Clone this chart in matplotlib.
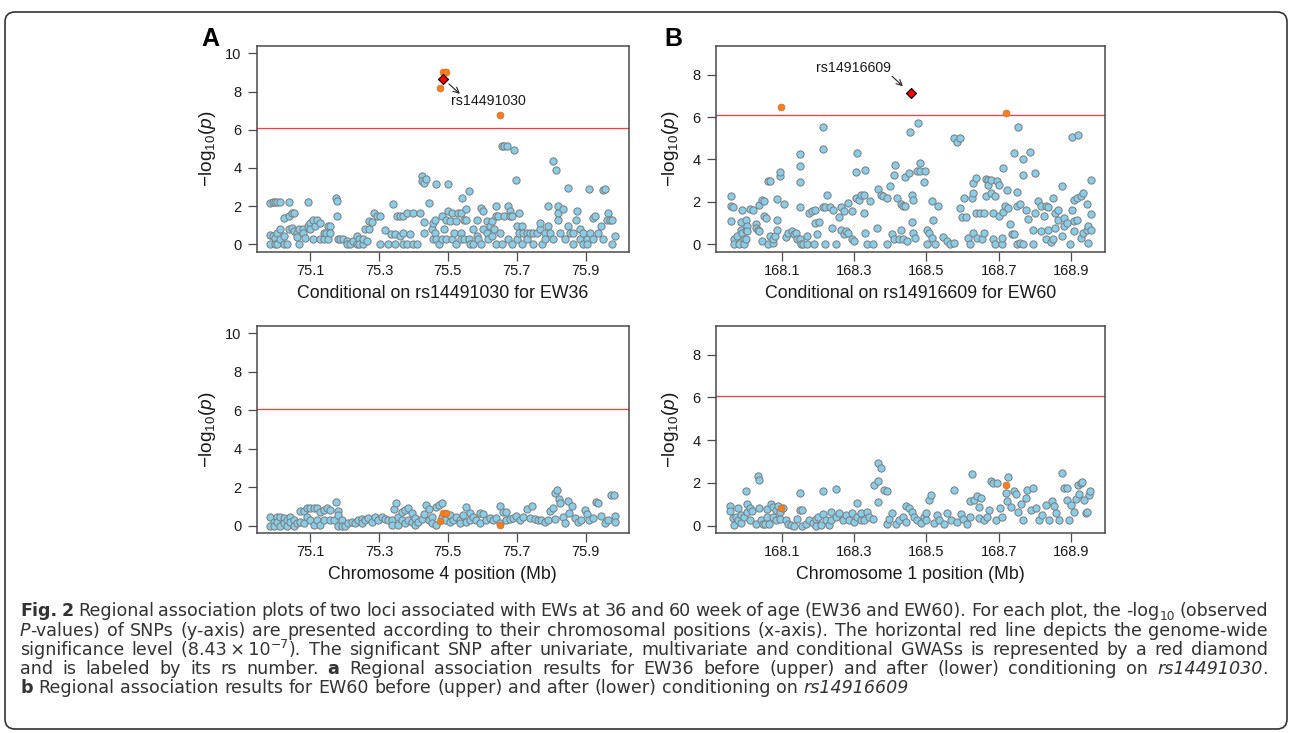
import numpy as np
import matplotlib
matplotlib.use("Agg")
import matplotlib.pyplot as plt
from matplotlib.patches import FancyBboxPatch
from matplotlib.transforms import IdentityTransform


# genome-wide significance level
SIG_P = 8.43e-7

# EW36, chromosome 4 (Mb, -log10 p), before conditioning
EW36_BEFORE = [
    (74.984, 2.17), (74.984, 0.47), (74.984, 0.03), (74.992, 2.23), (74.992, 0.43),
    (74.998, 2.23), (74.998, 0.35), (74.998, 0.03), (75.005, 2.23), (75.005, 0.61),
    (75.005, 0.03), (75.013, 2.23), (75.013, 0.78), (75.013, 0.26), (75.025, 1.39),
    (75.025, 0.43), (75.025, 0.03), (75.032, 0.03), (75.039, 2.23), (75.039, 1.51),
    (75.039, 0.78), (75.047, 1.65), (75.047, 0.87), (75.054, 1.65), (75.054, 0.70),
    (75.061, 0.61), (75.061, 0.40), (75.069, 0.78), (75.069, 0.03), (75.079, 0.78),
    (75.079, 0.61), (75.084, 0.35), (75.093, 2.23), (75.093, 0.96), (75.100, 1.13),
    (75.100, 0.78), (75.108, 1.30), (75.108, 0.26), (75.115, 0.96), (75.121, 1.30),
    (75.129, 1.13), (75.129, 0.26), (75.139, 0.61), (75.139, 0.26), (75.145, 0.61),
    (75.153, 0.96), (75.153, 0.26), (75.158, 0.96), (75.158, 0.61), (75.174, 2.43),
    (75.179, 1.51), (75.179, 2.26), (75.182, 0.26), (75.187, 0.26), (75.197, 0.26),
    (75.206, 0.17), (75.206, 0.03), (75.216, 0.03), (75.226, 0.17), (75.235, 0.43),
    (75.235, 0.03), (75.243, 0.26), (75.243, 0.03), (75.253, 0.03), (75.253, 0.26),
    (75.260, 0.78), (75.264, 0.17), (75.272, 0.78), (75.272, 1.22), (75.279, 1.17),
    (75.287, 1.65), (75.293, 1.51), (75.303, 1.51), (75.303, 0.03), (75.318, 0.73),
    (75.327, 0.03), (75.334, 0.52), (75.340, 2.09), (75.347, 0.52), (75.347, 0.03),
    (75.351, 1.51), (75.361, 1.48), (75.361, 0.43), (75.371, 1.48), (75.371, 0.61),
    (75.371, 0.03), (75.380, 1.65), (75.380, 0.03), (75.390, 0.52), (75.400, 1.65),
    (75.400, 0.03), (75.409, 0.03), (75.419, 1.65), (75.426, 3.60), (75.426, 3.30),
    (75.432, 3.22), (75.432, 1.17), (75.432, 0.61), (75.438, 3.43), (75.445, 2.14),
    (75.453, 0.78), (75.458, 1.13), (75.458, 0.26), (75.463, 1.30), (75.463, 0.61),
    (75.467, 3.18), (75.467, 0.26), (75.475, 0.00), (75.482, 1.48), (75.482, 0.26),
    (75.489, 0.78), (75.496, 0.26), (75.496, 1.30), (75.501, 3.18), (75.501, 1.74),
    (75.506, 1.22), (75.513, 1.65), (75.513, 0.26), (75.518, 0.61), (75.524, 1.22),
    (75.524, 0.00), (75.530, 1.65), (75.537, 1.65), (75.537, 0.61), (75.537, 0.26),
    (75.541, 2.42), (75.547, 1.30), (75.547, 0.26), (75.554, 1.83), (75.554, 1.30),
    (75.561, 2.78), (75.561, 0.26), (75.564, 0.03), (75.574, 0.03), (75.574, 0.78),
    (75.584, 1.30), (75.584, 0.43), (75.588, 0.26), (75.595, 1.91), (75.595, 0.03),
    (75.603, 1.74), (75.603, 0.78), (75.613, 1.22), (75.613, 0.61), (75.617, 0.26),
    (75.622, 0.96), (75.627, 1.22), (75.627, 0.43), (75.634, 0.78), (75.640, 2.03),
    (75.640, 1.48), (75.640, 0.03), (75.646, 1.48), (75.651, 0.61), (75.656, 5.17),
    (75.656, 0.03), (75.663, 5.17), (75.663, 1.48), (75.671, 5.17), (75.675, 2.03),
    (75.675, 0.26), (75.680, 1.74), (75.680, 1.48), (75.685, 1.48), (75.685, 0.03),
    (75.693, 4.92), (75.698, 3.39), (75.700, 0.96), (75.700, 0.26), (75.707, 1.65),
    (75.707, 0.61), (75.714, 0.96), (75.714, 0.03), (75.719, 0.61), (75.729, 0.61),
    (75.729, 0.26), (75.738, 0.61), (75.748, 0.61), (75.748, 0.03), (75.758, 0.61),
    (75.767, 0.78), (75.767, 1.13), (75.772, 0.03), (75.782, 0.61), (75.782, 0.26),
    (75.791, 2.00), (75.791, 0.96), (75.798, 0.61), (75.806, 4.38), (75.806, 0.26),
    (75.814, 3.91), (75.820, 2.03), (75.820, 1.65), (75.820, 1.30), (75.827, 0.61),
    (75.833, 1.83), (75.840, 0.26), (75.849, 2.96), (75.849, 0.96), (75.854, 0.61),
    (75.864, 0.61), (75.864, 0.03), (75.872, 1.30), (75.876, 1.74), (75.883, 0.78),
    (75.883, 0.26), (75.893, 0.61), (75.893, 0.03), (75.903, 0.26), (75.903, 0.03),
    (75.910, 2.92), (75.912, 0.61), (75.922, 1.39), (75.922, 0.26), (75.928, 1.48),
    (75.936, 0.61), (75.946, 0.96), (75.951, 2.83), (75.951, 0.26), (75.956, 2.92),
    (75.961, 1.30), (75.966, 1.65), (75.970, 1.30), (75.978, 1.30), (75.978, 0.03),
    (75.985, 0.43),
]

# EW36 after conditioning on rs14491030
EW36_AFTER = [
    (74.984, 0.00), (74.984, 0.43), (74.994, 0.21), (74.994, 0.00), (75.003, 0.47),
    (75.003, 0.21), (75.013, 0.43), (75.013, 0.00), (75.023, 0.38), (75.023, 0.12),
    (75.032, 0.30), (75.032, 0.00), (75.042, 0.43), (75.042, 0.21), (75.052, 0.30),
    (75.052, 0.00), (75.061, 0.12), (75.071, 0.78), (75.071, 0.21), (75.081, 0.78),
    (75.081, 0.12), (75.090, 0.90), (75.090, 0.47), (75.100, 0.90), (75.100, 0.30),
    (75.110, 0.90), (75.110, 0.03), (75.119, 0.90), (75.119, 0.30), (75.129, 0.73),
    (75.129, 0.03), (75.139, 0.30), (75.139, 0.82), (75.148, 0.90), (75.158, 0.82),
    (75.158, 0.30), (75.168, 0.30), (75.175, 1.22), (75.182, 0.78), (75.182, 0.56),
    (75.182, 0.00), (75.192, 0.30), (75.192, 0.00), (75.201, 0.00), (75.211, 0.12),
    (75.221, 0.21), (75.230, 0.12), (75.240, 0.30), (75.250, 0.33), (75.250, 0.12),
    (75.259, 0.30), (75.269, 0.38), (75.279, 0.21), (75.288, 0.43), (75.298, 0.30),
    (75.308, 0.43), (75.317, 0.33), (75.327, 0.30), (75.337, 0.30), (75.337, 0.03),
    (75.343, 0.85), (75.349, 1.17), (75.356, 0.43), (75.356, 0.03), (75.366, 0.73),
    (75.366, 0.30), (75.375, 0.82), (75.375, 0.12), (75.385, 0.90), (75.385, 0.30),
    (75.395, 0.64), (75.395, 0.21), (75.404, 0.38), (75.404, 0.03), (75.414, 0.21),
    (75.424, 0.33), (75.431, 0.61), (75.438, 1.08), (75.446, 0.85), (75.446, 0.30),
    (75.455, 0.47), (75.455, 0.12), (75.465, 0.99), (75.465, 0.03), (75.475, 1.08),
    (75.483, 1.17), (75.483, 0.43), (75.491, 0.30), (75.506, 0.56), (75.506, 0.21),
    (75.515, 0.30), (75.525, 0.47), (75.535, 0.30), (75.535, 0.12), (75.544, 0.56),
    (75.554, 0.96), (75.554, 0.21), (75.564, 0.64), (75.564, 0.30), (75.573, 0.47),
    (75.583, 0.30), (75.593, 0.64), (75.593, 0.12), (75.602, 0.61), (75.612, 0.30),
    (75.622, 0.38), (75.631, 0.30), (75.641, 0.38), (75.651, 1.04), (75.651, 0.12),
    (75.660, 0.73), (75.670, 0.73), (75.670, 0.30), (75.680, 0.33), (75.689, 0.38),
    (75.699, 0.50), (75.709, 0.30), (75.718, 0.43), (75.730, 0.87), (75.738, 0.38),
    (75.745, 1.04), (75.752, 0.33), (75.762, 0.30), (75.771, 0.30), (75.781, 0.21),
    (75.791, 0.30), (75.797, 0.78), (75.805, 0.90), (75.810, 1.69), (75.810, 0.33),
    (75.818, 1.83), (75.823, 1.37), (75.826, 1.17), (75.834, 0.43), (75.839, 0.12),
    (75.849, 1.29), (75.853, 0.68), (75.861, 1.03), (75.868, 0.38), (75.878, 0.21),
    (75.887, 0.30), (75.897, 0.82), (75.904, 0.61), (75.911, 0.30), (75.921, 0.38),
    (75.929, 1.22), (75.936, 1.17), (75.945, 0.50), (75.955, 0.12), (75.965, 0.30),
    (75.974, 1.57), (75.981, 1.57), (75.984, 0.50), (75.984, 0.21),
]

# SNPs in LD with the top SNP (orange), EW36
EW36_LD_POS = [75.477, 75.485, 75.495, 75.651]
EW36_LD_BEFORE = [8.17, 9.03, 9.03, 6.75]
EW36_LD_AFTER = [0.24, 0.68, 0.68, 0.03]
EW36_TOP = ("rs14491030", 75.486, 8.66)

# EW60, chromosome 1, before conditioning
EW60_BEFORE = [
    (167.959, 2.30), (167.959, 1.80), (167.959, 1.09), (167.965, 1.77), (167.969, 0.23),
    (167.969, 0.00), (167.976, 0.39), (167.982, 0.00), (167.987, 1.05), (167.987, 0.70),
    (167.990, 1.61), (167.990, 0.55), (167.996, 0.23), (167.996, 0.00), (168.001, 1.14),
    (168.001, 0.70), (168.001, 0.23), (168.005, 0.86), (168.005, 0.63), (168.012, 1.67),
    (168.020, 1.64), (168.029, 0.98), (168.029, 0.78), (168.033, 0.70), (168.038, 1.86),
    (168.038, 0.63), (168.045, 2.08), (168.045, 0.16), (168.051, 2.03), (168.051, 1.33),
    (168.057, 1.25), (168.063, 2.97), (168.063, 0.00), (168.068, 2.97), (168.068, 0.39),
    (168.077, 0.08), (168.077, 0.23), (168.082, 0.39), (168.086, 2.16), (168.086, 1.17),
    (168.086, 0.70), (168.094, 3.23), (168.094, 3.39), (168.105, 1.88), (168.111, 0.36),
    (168.118, 0.55), (168.128, 0.63), (168.134, 0.47), (168.140, 0.55), (168.143, 0.23),
    (168.149, 4.27), (168.149, 2.92), (168.149, 3.70), (168.149, 1.77), (168.149, 0.23),
    (168.153, 0.00), (168.160, 0.00), (168.169, 0.39), (168.169, 0.00), (168.176, 1.48),
    (168.183, 1.56), (168.188, 0.00), (168.192, 1.61), (168.192, 1.02), (168.197, 0.47),
    (168.204, 1.05), (168.213, 5.52), (168.213, 4.47), (168.213, 1.77), (168.220, 0.00),
    (168.220, 1.77), (168.226, 2.34), (168.232, 1.77), (168.238, 0.78), (168.243, 1.64),
    (168.250, 0.00), (168.258, 1.30), (168.263, 1.77), (168.263, 0.70), (168.271, 1.56),
    (168.271, 0.47), (168.278, 0.63), (168.284, 1.95), (168.284, 0.55), (168.294, 1.56),
    (168.294, 0.23), (168.300, 0.16), (168.306, 2.19), (168.306, 3.42), (168.309, 4.30),
    (168.314, 2.11), (168.318, 2.34), (168.326, 2.34), (168.326, 1.48), (168.330, 3.52),
    (168.330, 0.55), (168.335, 0.00), (168.344, 2.03), (168.353, 0.00), (168.363, 0.78),
    (168.366, 2.61), (168.374, 2.34), (168.381, 2.27), (168.390, 2.19), (168.390, 0.00),
    (168.398, 2.73), (168.404, 0.47), (168.409, 3.28), (168.409, 0.23), (168.413, 3.75),
    (168.418, 2.19), (168.423, 0.23), (168.429, 1.92), (168.429, 0.70), (168.436, 1.80),
    (168.436, 0.23), (168.441, 3.17), (168.441, 1.80), (168.446, 0.16), (168.453, 3.36),
    (168.455, 5.28), (168.459, 2.34), (168.459, 1.05), (168.464, 2.11), (168.464, 0.55),
    (168.469, 0.31), (168.473, 3.44), (168.476, 5.72), (168.483, 3.83), (168.483, 3.44),
    (168.492, 2.92), (168.496, 3.44), (168.501, 0.70), (168.501, 0.00), (168.508, 0.55),
    (168.515, 2.03), (168.515, 0.31), (168.519, 1.17), (168.524, 0.00), (168.533, 1.80),
    (168.547, 0.36), (168.556, 0.16), (168.565, 0.00), (168.577, 5.00), (168.577, 0.08),
    (168.586, 4.80), (168.593, 5.00), (168.593, 1.72), (168.598, 1.30), (168.604, 2.19),
    (168.610, 1.30), (168.616, 0.31), (168.621, 0.00), (168.625, 2.19), (168.630, 2.89),
    (168.630, 2.42), (168.630, 0.55), (168.637, 3.13), (168.637, 1.48), (168.641, 0.31),
    (168.648, 1.48), (168.653, 0.23), (168.658, 1.48), (168.658, 0.55), (168.665, 3.08),
    (168.665, 2.27), (168.671, 3.05), (168.671, 2.81), (168.678, 3.05), (168.678, 2.42),
    (168.683, 1.48), (168.683, 0.23), (168.690, 2.30), (168.690, 0.00), (168.696, 2.97),
    (168.702, 2.81), (168.702, 1.33), (168.708, 0.00), (168.708, 0.31), (168.713, 3.59),
    (168.713, 1.52), (168.718, 1.80), (168.722, 2.58), (168.727, 1.72), (168.731, 0.94),
    (168.736, 0.50), (168.741, 4.30), (168.741, 0.47), (168.750, 2.47), (168.750, 1.80),
    (168.750, 0.00), (168.754, 5.55), (168.759, 1.92), (168.759, 0.08), (168.768, 4.02),
    (168.768, 3.28), (168.768, 0.00), (168.776, 1.64), (168.782, 1.20), (168.787, 4.33),
    (168.794, 0.00), (168.794, 0.70), (168.800, 3.36), (168.800, 1.48), (168.810, 2.03),
    (168.816, 1.80), (168.816, 0.63), (168.824, 1.33), (168.831, 1.83), (168.831, 0.23),
    (168.837, 1.77), (168.837, 0.70), (168.844, 0.11), (168.851, 2.19), (168.851, 0.23),
    (168.856, 1.48), (168.856, 0.78), (168.865, 1.64), (168.865, 1.17), (168.874, 2.73),
    (168.874, 0.39), (168.881, 1.25), (168.881, 0.86), (168.888, 1.02), (168.897, 0.00),
    (168.902, 5.08), (168.902, 1.64), (168.908, 2.11), (168.908, 1.09), (168.908, 0.63),
    (168.916, 2.19), (168.916, 1.14), (168.920, 5.16), (168.927, 2.27), (168.927, 0.31),
    (168.934, 2.42), (168.934, 0.55), (168.943, 1.88), (168.943, 0.70), (168.948, 0.86),
    (168.948, 0.08), (168.954, 3.05), (168.954, 1.41), (168.954, 0.70),
]

# EW60 after conditioning on rs14916609
EW60_AFTER = [
    (167.957, 0.92), (167.957, 0.70), (167.964, 0.34), (167.968, 0.03), (167.973, 0.42),
    (167.979, 0.81), (167.979, 0.27), (167.987, 0.50), (167.987, 0.11), (167.996, 0.42),
    (168.002, 1.60), (168.005, 1.00), (168.005, 0.66), (168.012, 0.81), (168.012, 0.27),
    (168.017, 0.70), (168.028, 0.08), (168.033, 2.30), (168.038, 2.14), (168.038, 0.81),
    (168.042, 0.27), (168.047, 0.08), (168.053, 0.08), (168.059, 0.77), (168.059, 0.42),
    (168.065, 0.08), (168.071, 1.00), (168.077, 0.42), (168.077, 0.89), (168.083, 0.74),
    (168.083, 0.27), (168.090, 0.92), (168.095, 0.64), (168.095, 0.33), (168.104, 0.81),
    (168.111, 0.27), (168.118, 0.08), (168.125, 0.03), (168.134, 0.00), (168.143, 0.30),
    (168.151, 1.55), (168.151, 0.74), (168.157, 0.74), (168.157, 0.00), (168.166, 0.08),
    (168.176, 0.27), (168.185, 0.14), (168.194, 0.30), (168.194, 0.00), (168.200, 0.42),
    (168.208, 0.03), (168.215, 1.61), (168.215, 0.55), (168.222, 0.27), (168.231, 0.02),
    (168.237, 0.66), (168.237, 0.27), (168.249, 1.72), (168.249, 0.42), (168.259, 0.58),
    (168.268, 0.27), (168.277, 0.50), (168.286, 0.27), (168.293, 0.58), (168.300, 0.19),
    (168.309, 1.08), (168.309, 0.42), (168.318, 0.27), (168.318, 0.58), (168.328, 0.27),
    (168.335, 0.66), (168.341, 0.42), (168.351, 0.30), (168.355, 1.89), (168.365, 2.10),
    (168.365, 1.10), (168.367, 2.93), (168.374, 2.69), (168.383, 1.67), (168.390, 1.63),
    (168.390, 0.08), (168.397, 0.30), (168.406, 0.61), (168.415, 0.08), (168.424, 0.27),
    (168.434, 0.42), (168.443, 0.94), (168.443, 0.19), (168.452, 0.81), (168.459, 0.66),
    (168.466, 0.42), (168.475, 0.27), (168.484, 0.11), (168.492, 0.42), (168.500, 0.61),
    (168.500, 0.27), (168.507, 1.20), (168.514, 1.44), (168.521, 0.11), (168.529, 0.50),
    (168.535, 0.27), (168.549, 0.08), (168.558, 0.58), (168.567, 0.27), (168.577, 1.67),
    (168.586, 0.19), (168.595, 0.55), (168.602, 0.30), (168.612, 0.08), (168.621, 1.13),
    (168.621, 0.42), (168.627, 2.43), (168.632, 1.20), (168.641, 1.39), (168.646, 0.86),
    (168.646, 0.34), (168.650, 1.30), (168.658, 0.27), (168.667, 0.42), (168.673, 0.74),
    (168.680, 2.10), (168.685, 1.99), (168.692, 0.27), (168.696, 1.99), (168.703, 0.81),
    (168.710, 0.42), (168.719, 1.52), (168.724, 1.13), (168.726, 2.27), (168.733, 0.89),
    (168.742, 1.64), (168.747, 1.49), (168.752, 0.66), (168.761, 1.00), (168.768, 0.27),
    (168.775, 1.28), (168.779, 1.69), (168.789, 0.74), (168.796, 1.75), (168.802, 0.81),
    (168.812, 0.27), (168.821, 0.50), (168.830, 0.97), (168.839, 0.27), (168.848, 1.13),
    (168.853, 0.92), (168.858, 0.58), (168.867, 0.27), (168.874, 2.46), (168.881, 1.75),
    (168.888, 1.75), (168.888, 1.20), (168.895, 0.27), (168.899, 0.97), (168.908, 0.66),
    (168.913, 1.24), (168.918, 1.91), (168.922, 1.49), (168.927, 1.99), (168.931, 2.05),
    (168.936, 1.20), (168.941, 0.58), (168.945, 0.66), (168.950, 1.44), (168.953, 1.63),
]

EW60_LD_POS = [168.099, 168.720]
EW60_LD_BEFORE = [6.45, 6.20]
EW60_LD_AFTER = [0.84, 1.92]
EW60_TOP = ("rs14916609", 168.457, 7.11)

EW36_XTICKS = [75.1, 75.3, 75.5, 75.7, 75.9]
EW60_XTICKS = [168.1, 168.3, 168.5, 168.7, 168.9]
EW36_YTICKS = [0, 2, 4, 6, 8, 10]
EW60_YTICKS = [0, 2, 4, 6, 8]

CAPTION = [
    [("Fig. 2", "b"),
     (" Regional association plots of two loci associated with EWs at 36 and 60 week "
      "of age (EW36 and EW60). For each plot, the -log", "r"),
     ("10", "sub"), (" (observed", "r")],
    [("P", "i"),
     ("-values) of SNPs (y-axis) are presented according to their chromosomal positions "
      "(x-axis). The horizontal red line depicts the genome-wide", "r")],
    [("significance level (8.43\u2009\u00d7\u200910", "r"), ("\u22127", "sup"),
     ("). The significant SNP after univariate, multivariate and conditional GWASs is "
      "represented by a red diamond", "r")],
    [("and is labeled by its rs number. ", "r"), ("a", "b"),
     (" Regional association results for EW36 before (upper) and after (lower) "
      "conditioning on ", "r"), ("rs14491030", "i"), (".", "r")],
    [("b", "b"),
     (" Regional association results for EW60 before (upper) and after (lower) "
      "conditioning on ", "r"), ("rs14916609", "i")],
]

BLUE = "#87CEEB"
GREY = "#7F7F7F"
ORANGE = "#F57F20"
W, H = 1290, 733

plt.rcParams.update({
    "font.family": ["Liberation Sans", "DejaVu Sans"],
    "mathtext.fontset": "custom",
    "mathtext.rm": "Liberation Sans",
    "mathtext.it": "Liberation Sans:italic",
    "mathtext.bf": "Liberation Sans:bold",
})
CAP_FAMILY = ["DejaVu Sans"]
CAP_COLOR = "#333333"


def add_axes_px(fig, left, top, right, bottom):
    return fig.add_axes([left / W, 1 - bottom / H, (right - left) / W, (bottom - top) / H])


def draw_panel(ax, snps, ld_pos, ld_logp, xlim, ylim, xticks, yticks, xlabel,
               top=None, ylab_x=-0.13):
    pos, logp = zip(*snps)
    ax.axhline(-np.log10(SIG_P), color="#FF3B3B", lw=0.9, zorder=1)
    ax.scatter(pos, logp, s=27, c=BLUE, edgecolors=GREY, linewidths=0.75, zorder=2)
    ax.scatter(ld_pos, ld_logp, s=24, c=ORANGE, edgecolors="#D9691A",
               linewidths=0.5, zorder=3)
    if top is not None:
        ax.scatter([top[1]], [top[2]], marker="D", s=26, c="#FF0000",
                   edgecolors="black", linewidths=0.8, zorder=4)
    ax.set_xlim(*xlim)
    ax.set_ylim(*ylim)
    ax.set_xticks(xticks)
    ax.set_xticklabels([f"{t:.1f}" for t in xticks])
    ax.set_yticks(yticks)
    ax.set_yticklabels([str(t) for t in yticks])
    for sp in ax.spines.values():
        sp.set_color("#4A4A4A")
        sp.set_linewidth(1.1)
    ax.tick_params(axis="both", direction="out", length=6.5, width=0.9,
                   color="#4A4A4A", labelsize=10.5, labelcolor="#1A1A1A")
    ax.tick_params(axis="x", pad=2.0)
    ax.tick_params(axis="y", pad=4.5)
    ax.set_xlabel(xlabel, fontsize=12.8, color="#1A1A1A")
    ax.xaxis.set_label_coords(0.5, -0.2)
    ax.xaxis.label.set_va("center")
    ax.set_ylabel(r"$-\mathrm{log}_{10}(p)$", fontsize=13.8, color="#1A1A1A")
    ax.yaxis.set_label_coords(ylab_x, 0.5)
    ax.yaxis.label.set_va("center")


fig = plt.figure(figsize=(W / 100, H / 100), dpi=100)
fig.patch.set_facecolor("white")

# outer rounded frame
frame = FancyBboxPatch((5, 4), 1282, 717, boxstyle="round,pad=0,rounding_size=10",
                       transform=IdentityTransform(), facecolor="none",
                       edgecolor="#333333", linewidth=1.2)
fig.add_artist(frame)

xlim36 = (74.945, 76.026)
xlim60 = (167.918, 168.994)
ylim36 = (-0.4, 10.4)
ylim60 = (-0.36, 9.36)

ax_a1 = add_axes_px(fig, 256.7, 45.7, 629, 252)
ax_b1 = add_axes_px(fig, 716, 45.7, 1105, 252)
ax_a2 = add_axes_px(fig, 256.7, 325.7, 629, 533.3)
ax_b2 = add_axes_px(fig, 716, 325.7, 1105, 533.3)

draw_panel(ax_a1, EW36_BEFORE, EW36_LD_POS, EW36_LD_BEFORE, xlim36, ylim36,
           EW36_XTICKS, EW36_YTICKS, "Conditional on rs14491030 for EW36",
           top=EW36_TOP, ylab_x=-0.131)
draw_panel(ax_b1, EW60_BEFORE, EW60_LD_POS, EW60_LD_BEFORE, xlim60, ylim60,
           EW60_XTICKS, EW60_YTICKS, "Conditional on rs14916609 for EW60",
           top=EW60_TOP, ylab_x=-0.118)
draw_panel(ax_a2, EW36_AFTER, EW36_LD_POS, EW36_LD_AFTER, xlim36, ylim36,
           EW36_XTICKS, EW36_YTICKS, "Chromosome 4 position (Mb)", ylab_x=-0.131)
draw_panel(ax_b2, EW60_AFTER, EW60_LD_POS, EW60_LD_AFTER, xlim60, ylim60,
           EW60_XTICKS, EW60_YTICKS, "Chromosome 1 position (Mb)", ylab_x=-0.118)

# top SNP labels
arrow = dict(arrowstyle="->", color="#222222", lw=0.8, shrinkA=0, shrinkB=0)
ax_a1.annotate("", xy=(75.535, 7.88), xytext=(75.503, 8.40), arrowprops=arrow)
ax_a1.text(75.617, 7.51, EW36_TOP[0], ha="center", va="center", fontsize=10.2,
           color="#1A1A1A")
ax_b1.annotate("", xy=(168.435, 7.45), xytext=(168.405, 7.92), arrowprops=arrow)
ax_b1.text(168.297, 8.30, EW60_TOP[0], ha="center", va="center", fontsize=10.2,
           color="#1A1A1A")

fig.text(210 / W, 1 - 39 / H, "A", ha="center", va="center", fontsize=18,
         fontweight="bold", color="black")
fig.text(673 / W, 1 - 39 / H, "B", ha="center", va="center", fontsize=18,
         fontweight="bold", color="black")

# caption, set word by word so that bold / italic / sub / superscript can mix
renderer = fig.canvas.get_renderer()


def run_props(kind, size):
    d = dict(family=CAP_FAMILY, fontsize=size, color=CAP_COLOR)
    if kind == "b":
        d["fontweight"] = "bold"
    if kind == "i":
        d["fontstyle"] = "italic"
    if kind in ("sub", "sup"):
        d["fontsize"] = size * 0.7
    return d


def text_w(s, props):
    t = fig.text(0, 0, s, **props)
    w = t.get_window_extent(renderer).width
    t.remove()
    return w


def tokens(runs):
    out, pending = [], False
    for text, kind in runs:
        for i, part in enumerate(text.split(" ")):
            if i > 0:
                pending = True
            if part:
                out.append((part, kind, pending))
                pending = False
    return out


def natural_width(toks, size):
    sp = text_w("a a", run_props("r", size)) - text_w("aa", run_props("r", size))
    total = sum(text_w(p, run_props(k, size)) for p, k, _ in toks)
    return total + sp * sum(1 for _, _, s in toks if s), sp


cap_x0, cap_x1 = 20, 1268
probe, _ = natural_width(tokens(CAPTION[-1]), 10)
cap_size = 10 * 888 / probe
baselines = [616, 635.5, 655, 674, 693]

for li, runs in enumerate(CAPTION):
    toks = tokens(runs)
    nat, sp = natural_width(toks, cap_size)
    n_sp = sum(1 for _, _, s in toks if s)
    gap = sp
    if li < len(CAPTION) - 1 and n_sp:
        gap = sp + (cap_x1 - cap_x0 - nat) / n_sp
    x = cap_x0
    for part, kind, space in toks:
        if space:
            x += gap
        dy = 0
        if kind == "sub":
            dy = -0.22 * cap_size * 100 / 72
        elif kind == "sup":
            dy = 0.42 * cap_size * 100 / 72
        props = run_props(kind, cap_size)
        fig.text(x / W, 1 - (baselines[li] - dy) / H, part, ha="left",
                 va="baseline", **props)
        x += text_w(part, props)

fig.savefig("out.png", dpi=100, facecolor="white")
